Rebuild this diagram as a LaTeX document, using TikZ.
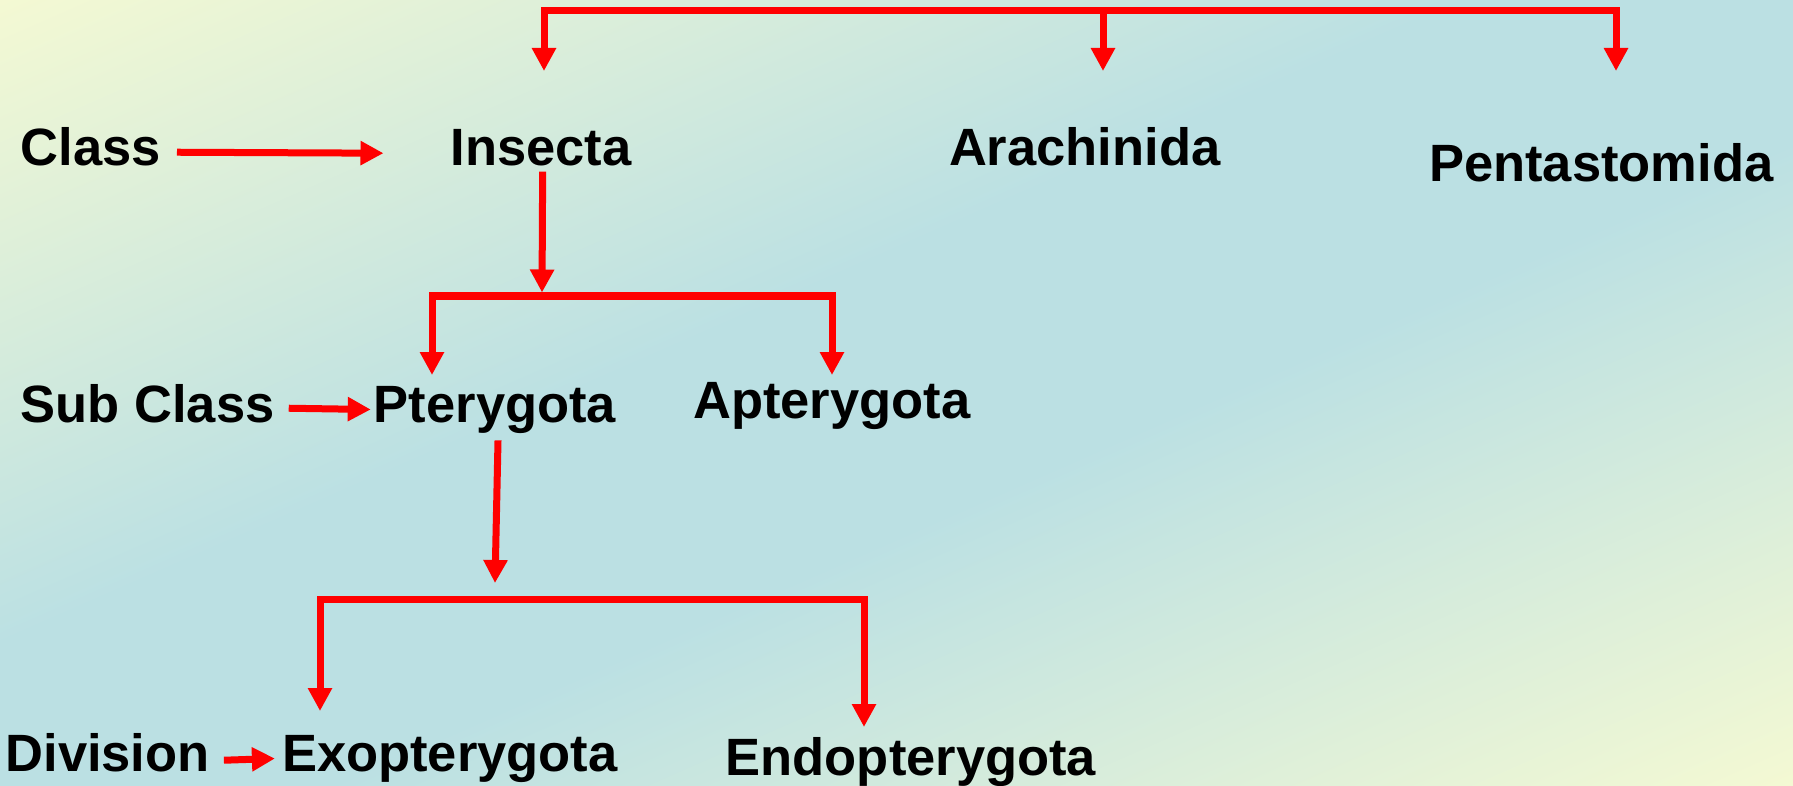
\documentclass[tikz,border=0pt]{standalone}
\usepackage{fontspec}
\setmainfont{Liberation Sans}
\usepackage{xcolor}
\usepackage{tikz}
\usetikzlibrary{arrows.meta,positioning}
\definecolor{paleyellow}{HTML}{F4F9D3}
\definecolor{paleblue}{HTML}{BBE0E3}
\pgfdeclareverticalshading{slide}{100bp}{color(0bp)=(paleyellow); color(25bp)=(paleyellow); color(45.5bp)=(paleblue); color(54.5bp)=(paleblue); color(75bp)=(paleyellow); color(100bp)=(paleyellow)}

\begin{document}
\begin{tikzpicture}[x=1pt, y=-1pt,
    taxon/.style={anchor=base west, inner sep=0pt, font=\fontsize{52.5}{63}\selectfont\bfseries},
    link/.style={red, line width=7pt},
    arrow/.style={link, -{Triangle[length=23pt, width=23pt]}}
]
\useasboundingbox (0,0) rectangle (1793,786);
\begin{scope}
\clip (0,0) rectangle (1793,786);
\shade[shading=slide, transform canvas={rotate around={23.7:(896.5,393)}}] (-103.5,-327) rectangle (1896.5,1113);
\end{scope}

\node[taxon] (class) at (20.5,166) {Class};
\node[taxon, base right=289.5pt of class] (insecta) {Insecta};
\node[taxon, base right=317pt of insecta] (arachinida) {Arachinida};
\node[taxon] (pentastomida) at (1429,182) {Pentastomida};
\node[taxon] (subclass) at (20.5,422) {Sub Class};
\node[taxon, base right=99pt of subclass] (pterygota) {Pterygota};
\node[taxon] (apterygota) at (693,418) {Apterygota};
\node[taxon] (division) at (5.3,771) {Division};
\node[taxon, base right=72pt of division] (exopterygota) {Exopterygota};
\node[taxon] (endopterygota) at (725.5,775) {Endopterygota};

\coordinate (arthropoda bar) at (1103,11);
\coordinate (to insecta) at (544,71);
\coordinate (to arachinida) at (1103,71);
\coordinate (to pentastomida) at (1616,71);
\coordinate (insecta bar) at (542,296);
\coordinate (to pterygota) at (432,375);
\coordinate (to apterygota) at (832,375);
\coordinate (pterygota end) at (495,583);
\coordinate (pterygota bar) at (495,599);
\coordinate (to exopterygota) at (320,711);
\coordinate (to endopterygota) at (864,727);

\draw[arrow] ([xshift=16pt, yshift=-5pt]class.east) -- ([xshift=-67pt, yshift=-5pt]insecta.west);
\draw[arrow] ([xshift=14pt, yshift=-5pt]subclass.east) -- ([xshift=-3pt]pterygota.west);
\draw[arrow] ([xshift=14pt, yshift=-8pt]division.east) -- ([xshift=-7pt]exopterygota.west);

\draw[arrow] (arthropoda bar) -| (to insecta);
\draw[arrow] (arthropoda bar) -- (to arachinida);
\draw[arrow] (arthropoda bar) -| (to pentastomida);

\draw[arrow, shorten >=3.5pt] ([xshift=1.5pt, yshift=-5pt]insecta.south) -- (insecta bar);
\draw[arrow] (insecta bar) -| (to pterygota);
\draw[arrow] (insecta bar) -| (to apterygota);

\draw[arrow] ([xshift=3pt, yshift=-7pt]pterygota.south) -- (pterygota end);
\draw[arrow] (pterygota bar) -| (to exopterygota);
\draw[arrow] (pterygota bar) -| (to endopterygota);
\end{tikzpicture}
\end{document}
